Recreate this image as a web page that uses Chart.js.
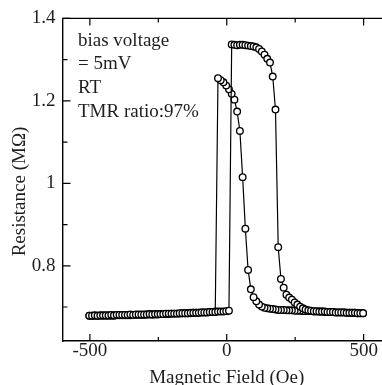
<!DOCTYPE html>
<html><head><meta charset="utf-8">
<script src="https://cdn.jsdelivr.net/npm/chart.js@4.4.1/dist/chart.umd.min.js"></script>
<style>html,body{margin:0;padding:0;overflow:hidden;background:#fff}#wrap{width:400px;height:385px}</style>
</head><body><div id="wrap"><canvas id="c" width="400" height="385"></canvas></div>
<script>
const fieldUp=[-502,-492,-482,-472,-462,-452,-442,-432,-422,-412,
-402,-392,-382,-372,-362,-352,-342,-332,-322,-312,
-302,-292,-282,-272,-262,-252,-242,-232,-222,-212,
-202,-192,-182,-172,-162,-152,-142,-132,-122,-112,
-102,-92,-82,-72,-62,-52,-42,-32,-22,-12,
-2,8,18,28,38,48,58,68,78,88,
98,108,118,128,138,148,158,168,178,188,
198,208,218,228,238,248,258,268,278,288,
298,308,318,328,338,348,358,368,378,388,
398,408,418,428,438,448,458,468,478,488,498];
const resUp=[0.679,0.679,0.680,0.679,0.680,0.680,0.680,0.680,0.681,0.680,
0.681,0.681,0.681,0.681,0.681,0.682,0.681,0.682,0.682,0.682,
0.682,0.682,0.683,0.682,0.683,0.683,0.683,0.683,0.684,0.684,
0.684,0.684,0.684,0.685,0.685,0.685,0.685,0.686,0.686,0.686,
0.686,0.687,0.687,0.687,0.688,0.688,0.688,0.689,0.689,0.689,
0.690,0.691,1.337,1.336,1.335,1.336,1.336,1.335,1.334,1.333,
1.332,1.330,1.326,1.320,1.312,1.302,1.293,1.259,1.179,0.845,
0.768,0.747,0.730,0.723,0.718,0.711,0.706,0.701,0.697,0.694,
0.692,0.691,0.690,0.690,0.689,0.689,0.689,0.688,0.688,0.688,
0.687,0.687,0.687,0.687,0.686,0.686,0.686,0.686,0.685,0.685,0.685];
const fieldDown=[498,488,478,468,458,448,438,428,418,408,
398,388,378,368,358,348,338,328,318,308,
298,288,278,268,258,248,238,228,218,208,
198,188,178,168,158,148,138,128,118,108,
98,88,78,68,58,48,38,28,18,8,
-2,-12,-22,-32,-42,-52,-62,-72,-82,-92,
-102,-112,-122,-132,-142,-152,-162,-172,-182,-192,
-202,-212,-222,-232,-242,-252,-262,-272,-282,-292,
-302,-312,-322,-332,-342,-352,-362,-372,-382,-392,
-402,-412,-422,-432,-442,-452,-462,-472,-482,-492,-502];
const resDown=[0.685,0.685,0.685,0.686,0.686,0.686,0.686,0.687,0.687,0.687,
0.687,0.688,0.688,0.688,0.688,0.689,0.689,0.689,0.689,0.690,
0.690,0.690,0.690,0.691,0.691,0.691,0.692,0.692,0.692,0.693,
0.693,0.693,0.694,0.695,0.696,0.697,0.698,0.701,0.706,0.714,
0.724,0.743,0.790,0.890,1.015,1.127,1.174,1.203,1.217,1.228,
1.237,1.245,1.250,1.255,0.689,0.688,0.688,0.687,0.687,0.687,
0.686,0.686,0.686,0.685,0.685,0.685,0.685,0.684,0.684,0.684,
0.684,0.683,0.683,0.683,0.683,0.682,0.682,0.682,0.682,0.682,
0.681,0.681,0.681,0.681,0.681,0.680,0.680,0.680,0.680,0.680,
0.680,0.679,0.679,0.679,0.679,0.679,0.679,0.679,0.679,0.679,0.679];
const xTicks=[-500,0,500];
const xMinorTicks=[-250,250];
const yTicks=[0.8,1,1.2,1.4];
const yMinorTicks=[0.7,0.9,1.1,1.3];
const notes=['bias voltage','= 5mV','RT','TMR ratio:97%'];
const xTitle='Magnetic Field (Oe)';
const yTitle='Resistance (M\u03A9)';

const FONT='"Liberation Serif", "Times New Roman", serif';
const TXT='#1e1e1e';

function pts(xs,ys){return xs.map((x,i)=>({x:x,y:ys[i]}));}
const ds=(d)=>({data:d,showLine:true,borderColor:'#000',borderWidth:1.2,
  pointRadius:3.3,pointHoverRadius:3.3,pointBackgroundColor:'#fff',pointBorderColor:'#000',pointBorderWidth:1.35});

const frame={id:'frame',afterDraw(chart){
  const ctx=chart.ctx, a=chart.chartArea, xs=chart.scales.x, ys=chart.scales.y;
  ctx.save();
  ctx.strokeStyle='#000'; ctx.lineWidth=1.4;
  ctx.beginPath(); ctx.moveTo(a.left,a.top); ctx.lineTo(a.right,a.top); ctx.lineTo(a.right,a.bottom); ctx.stroke();
  ctx.lineWidth=1.2;
  const tick=(v,len,horiz)=>{
    ctx.beginPath();
    if(horiz){const p=xs.getPixelForValue(v);
      ctx.moveTo(p,a.bottom);ctx.lineTo(p,a.bottom-len);
      ctx.moveTo(p,a.top);ctx.lineTo(p,a.top+len);}
    else{const p=ys.getPixelForValue(v);
      ctx.moveTo(a.left,p);ctx.lineTo(a.left+len,p);
      ctx.moveTo(a.right,p);ctx.lineTo(a.right-len,p);}
    ctx.stroke();};
  xTicks.forEach(v=>tick(v,7,true)); xMinorTicks.forEach(v=>tick(v,4,true));
  yTicks.forEach(v=>tick(v,8,false)); yMinorTicks.forEach(v=>tick(v,5,false));
  ctx.fillStyle=TXT; ctx.font='19px '+FONT; ctx.textBaseline='alphabetic'; ctx.textAlign='left';
  notes.forEach((t,i)=>ctx.fillText(t,78,45.7+i*23.7));
  ctx.textAlign='center';
  ctx.fillText(xTitle,(a.left+a.right)/2,383.3);
  ctx.translate(25,191.5); ctx.rotate(-Math.PI/2); ctx.fillText(yTitle,0,0);
  ctx.restore();
}};

new Chart(document.getElementById('c'),{
  type:'scatter',
  data:{datasets:[ds(pts(fieldUp,resUp)),ds(pts(fieldDown,resDown))]},
  options:{responsive:false,devicePixelRatio:1,animation:false,
    layout:{padding:{top:15,right:9,left:0,bottom:0}},
    plugins:{legend:{display:false},tooltip:{enabled:false}},
    scales:{
      x:{type:'linear',min:-600,max:600,
        afterBuildTicks:s=>{s.ticks=xTicks.map(v=>({value:v}));},
        afterFit:s=>{s.height=44;},
        grid:{display:false,drawTicks:false},
        border:{display:true,color:'#000',width:1.4},
        ticks:{font:{family:FONT,size:19},color:TXT,padding:-1,maxRotation:0,autoSkip:false,
          callback:v=>String(v)}},
      y:{type:'linear',min:0.6176,max:1.4,
        afterBuildTicks:s=>{s.ticks=yTicks.map(v=>({value:v}));},
        afterFit:s=>{s.width=62.5;},
        grid:{display:false,drawTicks:false},
        border:{display:true,color:'#000',width:1.4},
        ticks:{font:{family:FONT,size:19},color:TXT,padding:7,autoSkip:false,
          callback:v=>String(v)}}
    }
  },
  plugins:[frame]
});
</script></body></html>
